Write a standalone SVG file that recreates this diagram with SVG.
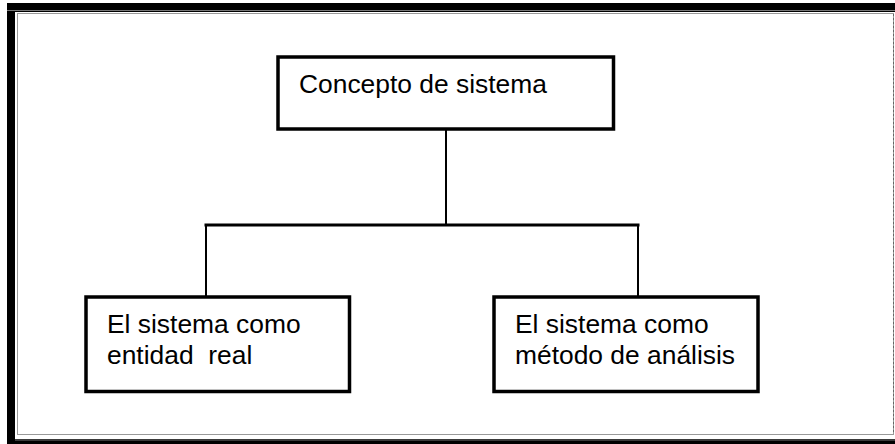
<svg xmlns="http://www.w3.org/2000/svg" width="895" height="444" viewBox="0 0 895 444">
<style>
.box{fill:#fff;stroke:#000;stroke-width:3.5}
.lbl{font-family:"Liberation Sans",Arial,sans-serif;font-size:26.4px;fill:#000;white-space:pre}
.conn{stroke:#000;fill:none;stroke-linecap:square}
</style>
<rect width="895" height="444" fill="#fff"/>
<g id="frame">
<path d="M7 3H905V452H7Z M15 12V439H898V12Z" fill="#000" fill-rule="evenodd"/>
<line x1="7" y1="10.5" x2="895" y2="10.5" stroke="#777" stroke-width="1"/>
<line x1="15" y1="440" x2="895" y2="440" stroke="#777" stroke-width="1"/>
<rect x="17.5" y="13.5" width="876" height="421" fill="none" stroke="#999" stroke-width="1"/>
<line x1="15.5" y1="12" x2="15.5" y2="439" stroke="#fff" stroke-width="1" stroke-dasharray="1.5 1.5"/>
<line x1="893.5" y1="14" x2="893.5" y2="434" stroke="#666" stroke-width="1" stroke-dasharray="2 2"/>
</g>
<g id="connectors">
<line class="conn" x1="446" y1="131" x2="446" y2="225" stroke-width="2"/>
<line class="conn" x1="206" y1="225" x2="638" y2="225" stroke-width="3"/>
<line class="conn" x1="206" y1="225" x2="206" y2="296" stroke-width="2"/>
<line class="conn" x1="638" y1="225" x2="638" y2="296" stroke-width="2"/>
</g>
<g id="concepto">
<rect class="box" x="278" y="57" width="335.5" height="72"/>
<text class="lbl" x="299" y="93">Concepto de sistema</text>
</g>
<g id="entidad">
<rect class="box" x="86" y="297" width="263.5" height="94.5"/>
<text class="lbl" x="107" y="333">El sistema como</text>
<text class="lbl" x="107" y="364">entidad  real</text>
</g>
<g id="metodo">
<rect class="box" x="494" y="297" width="264" height="94.5"/>
<text class="lbl" x="515" y="333">El sistema como</text>
<text class="lbl" x="515" y="364">método de análisis</text>
</g>
</svg>
